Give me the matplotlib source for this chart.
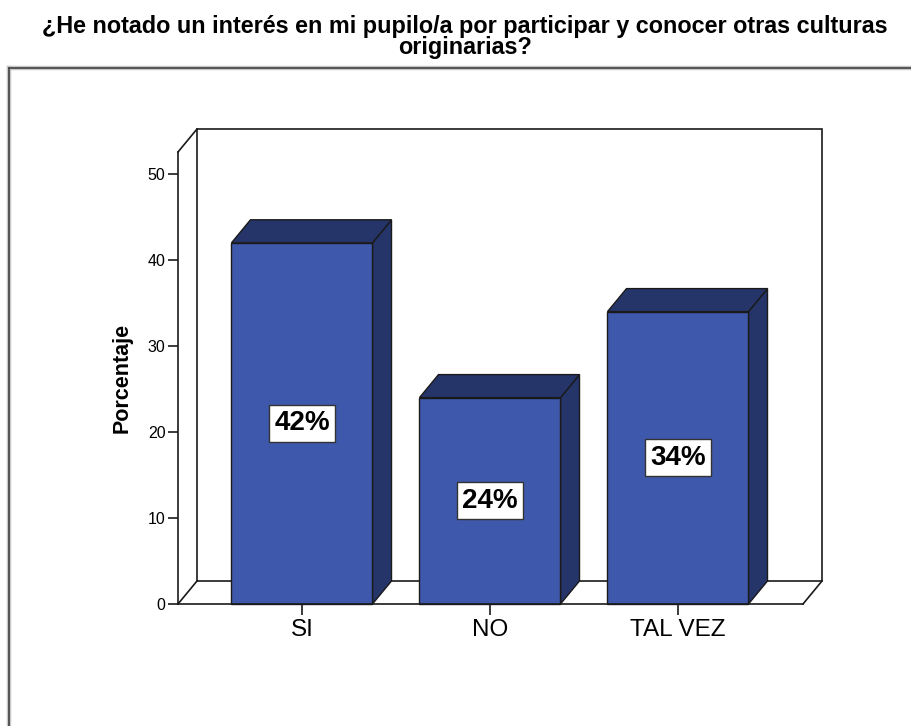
import matplotlib.pyplot as plt
from matplotlib.patches import Polygon
from matplotlib.lines import Line2D

plt.rcParams["font.family"] = ["Liberation Sans", "DejaVu Sans"]

# data
categories = ["SI", "NO", "TAL VEZ"]
values = [42, 24, 34]
labels = ["42%", "24%", "34%"]
yticks = [0, 10, 20, 30, 40, 50]
title = "¿He notado un interés en mi pupilo/a por participar y conocer otras culturas\noriginarias?"

FRONT = "#3E59AB"
DARK = "#25356A"
EDGE = "#1a1a1a"
LW = 1.2

W, H = 912, 726
fig = plt.figure(figsize=(W / 100, H / 100), dpi=100)

# axes box = front floor edge / front vertical axis (pixel layout)
x0, x1, yb, yt = 178, 803, 604, 152
ax = fig.add_axes([x0 / W, (H - yb) / H, (x1 - x0) / W, (yb - yt) / H])
ppu_x = 188.0   # px per category step
ppu_y = 8.6     # px per percent
xmin = (x0 - 302) / ppu_x
xmax = (x1 - 302) / ppu_x
ymax = (yb - yt) / ppu_y
ax.set_xlim(xmin, xmax)
ax.set_ylim(0, ymax)
dx = 19 / ppu_x
dy = 23 / ppu_y

# back wall and floor
kw = dict(color=EDGE, lw=LW, clip_on=False, zorder=1, solid_joinstyle="miter")
ax.plot([xmin + dx, xmin + dx, xmax + dx, xmax + dx, xmin + dx],
        [dy, ymax + dy, ymax + dy, dy, dy], **kw)
ax.plot([xmin, xmin + dx], [ymax, ymax + dy], **kw)
ax.plot([xmin, xmin + dx], [0, dy], **kw)
ax.plot([xmax, xmax + dx], [0, dy], **kw)

# 3d bars
bw = 0.75
for i, v in enumerate(values):
    l, r = i - bw / 2, i + bw / 2
    side = Polygon([(r, 0), (r + dx, dy), (r + dx, v + dy), (r, v)], closed=True,
                   fc=DARK, ec=EDGE, lw=1, clip_on=False, zorder=3)
    top = Polygon([(l, v), (l + dx, v + dy), (r + dx, v + dy), (r, v)], closed=True,
                  fc=DARK, ec=EDGE, lw=1, clip_on=False, zorder=3)
    front = Polygon([(l, 0), (l, v), (r, v), (r, 0)], closed=True,
                    fc=FRONT, ec=EDGE, lw=1, clip_on=False, zorder=4)
    for p in (side, top, front):
        ax.add_patch(p)
    ax.text(i, v / 2, labels[i], ha="center", va="center", fontsize=20,
            fontweight="bold", color="black", zorder=6,
            bbox=dict(boxstyle="square,pad=0.2", fc="white", ec="#333333", lw=1))

for s in ("top", "right"):
    ax.spines[s].set_visible(False)
for s in ("left", "bottom"):
    ax.spines[s].set_linewidth(LW)
    ax.spines[s].set_color(EDGE)
    ax.spines[s].set_zorder(5)
ax.set_xticks(range(len(categories)))
ax.set_xticklabels(categories)
ax.set_yticks(yticks)
ax.tick_params(axis="y", direction="out", length=7, width=LW, labelsize=11.5, pad=2,
               color=EDGE)
ax.tick_params(axis="x", direction="out", length=8, width=LW, labelsize=17.5, pad=3,
               color=EDGE)
ax.patch.set_visible(False)

fig.text(122.5 / W, (H - 378) / H, "Porcentaje", rotation=90, ha="center", va="center",
         fontsize=15.5, fontweight="bold")
fig.text(465 / W, 1 - 15 / H, title, ha="center", va="top", fontsize=16.8,
         fontweight="bold", linespacing=0.88)

# outer frame
fx, fy = 9.5 / W, 1 - 68 / H
for c, w in (("#c8c8c8", 3.2), ("#4a4a4a", 1.3)):
    fig.add_artist(Line2D([fx, fx], [fy, -0.01], color=c, lw=w, transform=fig.transFigure,
                          solid_joinstyle="miter"))
    fig.add_artist(Line2D([fx, 1.01], [fy, fy], color=c, lw=w, transform=fig.transFigure,
                          solid_joinstyle="miter"))

fig.savefig("out.png", dpi=100)
